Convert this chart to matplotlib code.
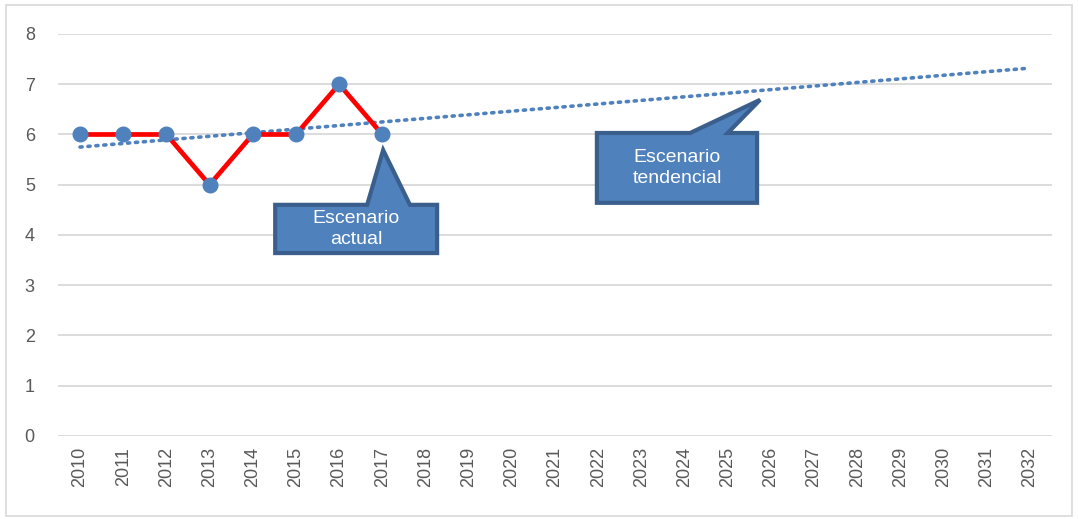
import matplotlib.pyplot as plt
from matplotlib.patches import Polygon, Rectangle
import numpy as np

plt.rcParams['font.family'] = ['Liberation Sans', 'DejaVu Sans']

# data
years = [str(y) for y in range(2010, 2033)]
actual_years = years[:8]
actual_values = [6, 6, 6, 5, 6, 6, 7, 6]
y_ticks = [0, 1, 2, 3, 4, 5, 6, 7, 8]

blue = '#4F81BD'
edge = '#3A5F8C'

fig = plt.figure(figsize=(10.78, 5.19), dpi=100)
fig.patches.append(Rectangle((0.006, 0.006), 0.988, 0.984, transform=fig.transFigure,
                             fill=False, edgecolor='#D9D9D9', linewidth=1.2))
ax = fig.add_axes([0.0542, 0.160, 0.9213, 0.7745])

x_all = np.arange(len(years))
x_act = np.arange(len(actual_years))

# linear trend (same as the spreadsheet trendline)
slope, intercept = np.polyfit(x_act, actual_values, 1)
ax.plot(x_all, intercept + slope * x_all, linestyle=(0, (0.6, 1.6)), color=blue,
        linewidth=2.6, dash_capstyle='round', zorder=3)

ax.plot(x_act, actual_values, color='#FF0000', linewidth=3.4, zorder=4)
ax.plot(x_act, actual_values, 'o', color=blue, markersize=10.5, zorder=5)

ax.set_xlim(-0.5, len(years) - 0.5)
ax.set_ylim(0, 8)
ax.set_xticks(x_all)
ax.set_xticklabels(years, rotation=90, fontsize=13, color='#595959')
ax.set_yticks(y_ticks)
ax.set_yticklabels([str(v) for v in y_ticks], fontsize=13, color='#595959')
ax.tick_params(length=0)
ax.tick_params(axis='y', pad=17)
ax.tick_params(axis='x', pad=8)
for s in ax.spines.values():
    s.set_visible(False)
ax.grid(axis='y', color='#D9D9D9', linewidth=1.3)
ax.set_axisbelow(True)


def callout(x0, x1, y0, y1, b0, b1, tip, text):
    pts = [(x0, y0), (x0, y1), (b0, y1), tip, (b1, y1), (x1, y1), (x1, y0)]
    ax.add_patch(Polygon(pts, closed=True, facecolor=blue, edgecolor=edge,
                         linewidth=3, joinstyle='miter', zorder=6, clip_on=False))
    ax.text((x0 + x1) / 2, (y0 + y1) / 2, text, ha='center', va='center',
            color='white', fontsize=14, linespacing=1.3, zorder=7)


callout(4.52, 8.27, 3.64, 4.60, 6.65, 7.64, (7.02, 5.69), 'Escenario\nactual')
callout(11.97, 15.68, 4.64, 6.03, 14.13, 15.0, (15.75, 6.69), 'Escenario\ntendencial')

fig.savefig('out.png', dpi=100)
